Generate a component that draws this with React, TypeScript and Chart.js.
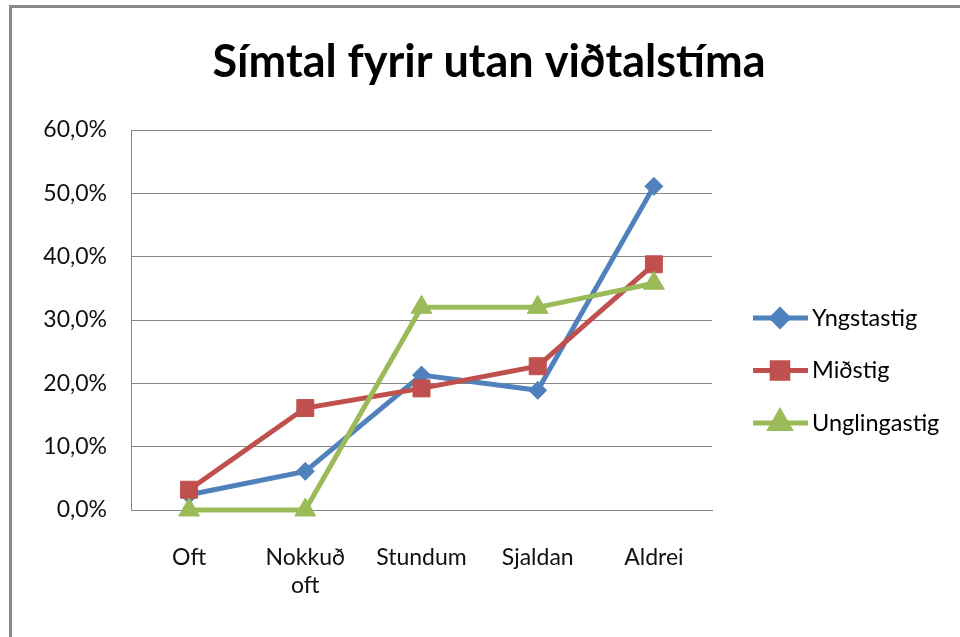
import React, { useEffect, useRef } from "react";
import { Chart, registerables } from "chart.js";
import { drawPoint } from "chart.js/helpers";

Chart.register(...registerables);

const chartTitle = "Símtal fyrir utan viðtalstíma";
const categories = ["Oft", "Nokkuð oft", "Stundum", "Sjaldan", "Aldrei"];
const seriesNames = ["Yngstastig", "Miðstig", "Unglingastig"];
const yngstastig = [2.4, 6.1, 21.3, 18.9, 51.1];
const midstig = [3.2, 16.1, 19.2, 22.7, 38.8];
const unglingastig = [0, 0, 32.0, 32.0, 35.8];
const yTicks = [0, 10, 20, 30, 40, 50, 60];

const colors = ["#4F81BD", "#C0504D", "#9BBB59"];
const pointStyles = ["rectRot", "rect", "triangle"];
const pointRadii = [9, 12, 12];
const FONT = "Lato, 'Open Sans', sans-serif";

const overlayPlugin = {
  id: "overlay",
  afterDraw(chart: any) {
    const ctx = chart.ctx;
    ctx.save();
    // title
    ctx.fillStyle = "#000";
    ctx.font = `bold 45px ${FONT}`;
    ctx.textAlign = "center";
    ctx.textBaseline = "alphabetic";
    ctx.fillText(chartTitle, 489, 77);
    // legend
    seriesNames.forEach((name, i) => {
      const y = 318 + i * 52.5;
      ctx.strokeStyle = colors[i];
      ctx.lineWidth = 5;
      ctx.lineCap = "butt";
      ctx.beginPath();
      ctx.moveTo(753, y);
      ctx.lineTo(808, y);
      ctx.stroke();
      ctx.fillStyle = colors[i];
      ctx.strokeStyle = colors[i];
      drawPoint(
        ctx,
        { pointStyle: pointStyles[i], radius: pointRadii[i] - 1, rotation: 0, borderWidth: 1 },
        780,
        y
      );
      ctx.fillStyle = "#000";
      ctx.font = `23.5px ${FONT}`;
      ctx.textAlign = "left";
      ctx.textBaseline = "middle";
      ctx.fillText(name, 812, y);
    });
    ctx.restore();
  },
};

export default function App() {
  const ref = useRef<HTMLCanvasElement>(null);
  useEffect(() => {
    if (!ref.current) return;
    const series = [yngstastig, midstig, unglingastig];
    const chart = new Chart(ref.current, {
      type: "line",
      data: {
        labels: categories,
        datasets: series.map((d, i) => ({
          label: seriesNames[i],
          data: d,
          borderColor: colors[i],
          backgroundColor: colors[i],
          borderWidth: 5,
          tension: 0,
          pointStyle: pointStyles[i] as any,
          pointRadius: pointRadii[i],
          pointHoverRadius: pointRadii[i],
          pointBackgroundColor: colors[i],
          pointBorderColor: colors[i],
          pointBorderWidth: 1,
          clip: false as any,
          order: 3 - i,
        })),
      },
      options: {
        animation: false,
        responsive: false,
        events: [],
        layout: { padding: { top: 130, right: 248, left: 0, bottom: 0 } },
        plugins: {
          legend: { display: false },
          title: { display: false },
          tooltip: { enabled: false },
        },
        scales: {
          x: {
            type: "category",
            offset: true,
            grid: { display: false, drawTicks: false },
            border: { display: true, color: "#868686", width: 1 },
            ticks: {
              padding: 34,
              color: "#111",
              font: { family: FONT, size: 23 },
              maxRotation: 0,
              autoSkip: false,
              callback: function (this: any, v: any) {
                const l = this.getLabelForValue(v) as string;
                return l.length > 8 ? l.split(" ") : l;
              },
            },
            afterFit: (s: any) => {
              s.height = 127;
            },
          },
          y: {
            min: 0,
            max: 60,
            afterBuildTicks: (s: any) => {
              s.ticks = yTicks.map((v) => ({ value: v }));
            },
            grid: { color: "#868686", lineWidth: 1, drawTicks: false },
            border: { display: true, color: "#868686", width: 1 },
            ticks: {
              padding: 24,
              color: "#111",
              font: { family: FONT, size: 23 },
              callback: (v: any) => Number(v).toFixed(1).replace(".", ",") + "%",
            },
            afterFit: (s: any) => {
              s.width = 131;
            },
          },
        },
      },
      plugins: [overlayPlugin],
    });
    return () => chart.destroy();
  }, []);
  return (
    <div
      style={{
        position: "fixed",
        left: 0,
        top: 0,
        width: 960,
        height: 637,
        background: "#fff",
        overflow: "hidden",
      }}
    >
      <div
        style={{
          position: "absolute",
          left: 9,
          top: 5,
          width: 1000,
          height: 700,
          borderLeft: "3px solid #8a8a8a",
          borderTop: "3px solid #8a8a8a",
        }}
      />
      <canvas
        ref={ref}
        width={960}
        height={637}
        style={{ position: "absolute", left: 0, top: 0, width: 960, height: 637 }}
      />
    </div>
  );
}
